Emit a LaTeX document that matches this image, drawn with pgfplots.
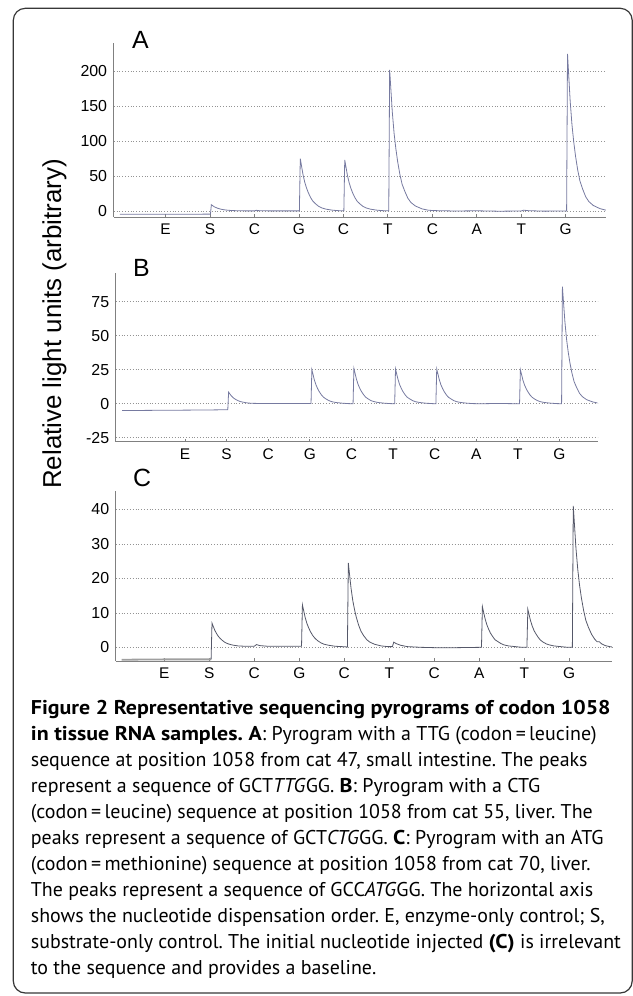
\documentclass[border=0pt]{standalone}
\usepackage{fontspec}
\setmainfont{Liberation Sans}
\newfontfamily\capfont{PT Sans}[BoldFeatures={FakeStretch=1.1}]
\usepackage{pgfplots}
\pgfplotsset{compat=1.18}
\usepackage{pgfplotstable}

\definecolor{trace}{RGB}{118,122,160}
\definecolor{traceC}{RGB}{85,88,105}
\definecolor{axgray}{RGB}{128,128,128}
\definecolor{boxgray}{RGB}{55,55,55}

% pyrogram A: TTG, cat 47 small intestine
\pgfplotstableread{
x y
-0.03 -4.7
1.00 -4.6
2.00 -4.5
2.01 -4.4
2.03 9.0
2.06 7.6
2.09 6.3
2.13 5.0
2.17 4.0
2.21 3.2
2.26 2.4
2.31 1.8
2.37 1.3
2.44 0.9
2.51 0.6
2.61 0.4
2.80 0.2
3.00 0.2
3.04 1.0
3.10 0.5
3.30 0.2
4.00 0.2
4.01 0.3
4.03 75.0
4.06 63.8
4.09 52.5
4.13 41.3
4.17 33.0
4.21 26.3
4.26 19.5
4.31 14.3
4.37 10.5
4.44 6.8
4.51 4.5
4.61 2.6
4.76 1.1
4.91 0.4
5.00 0.2
5.01 0.3
5.03 73.0
5.06 62.1
5.09 51.1
5.13 40.2
5.17 32.1
5.21 25.6
5.26 19.0
5.31 13.9
5.37 10.2
5.44 6.6
5.51 4.4
5.61 2.6
5.76 1.1
5.91 0.4
6.01 0.2
6.02 0.3
6.04 202.0
6.07 171.7
6.10 141.4
6.14 111.1
6.18 88.9
6.22 70.7
6.27 52.5
6.32 38.4
6.38 28.3
6.45 18.2
6.52 12.1
6.62 7.1
6.77 3.0
6.92 1.0
7.10 0.5
7.50 0.0
8.00 0.3
8.50 -0.3
9.00 0.0
9.05 1.2
9.15 0.5
9.50 -0.2
10.01 0.0
10.02 0.2
10.04 225.0
10.07 191.3
10.10 157.5
10.14 123.8
10.18 99.0
10.22 78.8
10.27 58.5
10.32 42.8
10.38 31.5
10.45 20.3
10.52 13.5
10.62 7.9
10.77 3.4
10.90 1.2
}\tabA

% pyrogram B: CTG, cat 55 liver
\pgfplotstableread{
x y
-0.51 -5.0
0.50 -4.8
1.50 -4.6
2.03 -4.4
2.05 8.5
2.08 7.2
2.11 6.0
2.15 4.7
2.19 3.7
2.23 3.0
2.28 2.2
2.33 1.6
2.39 1.2
2.46 0.8
2.53 0.5
2.63 0.3
2.80 0.2
3.50 0.2
4.03 0.2
4.05 25.0
4.08 21.3
4.11 17.5
4.15 13.8
4.19 11.0
4.23 8.8
4.28 6.5
4.33 4.8
4.39 3.5
4.46 2.3
4.53 1.5
4.63 0.9
4.78 0.4
4.93 0.1
5.04 0.0
5.06 26.0
5.09 22.1
5.12 18.2
5.16 14.3
5.20 11.4
5.24 9.1
5.29 6.8
5.34 4.9
5.40 3.6
5.47 2.3
5.54 1.6
5.64 0.9
5.79 0.4
5.94 0.1
6.04 0.0
6.06 25.5
6.09 21.7
6.12 17.9
6.16 14.0
6.20 11.2
6.24 8.9
6.29 6.6
6.34 4.8
6.40 3.6
6.47 2.3
6.54 1.5
6.64 0.9
6.79 0.4
6.94 0.1
7.03 0.0
7.05 25.5
7.08 21.7
7.11 17.9
7.15 14.0
7.19 11.2
7.23 8.9
7.28 6.6
7.33 4.8
7.39 3.6
7.46 2.3
7.53 1.5
7.63 0.9
7.78 0.4
7.93 0.1
8.10 0.0
8.50 0.2
9.04 0.0
9.06 25.0
9.09 21.3
9.12 17.5
9.16 13.8
9.20 11.0
9.24 8.8
9.29 6.5
9.34 4.8
9.40 3.5
9.47 2.3
9.54 1.5
9.64 0.9
9.79 0.4
9.94 0.1
10.05 0.0
10.07 86.0
10.10 73.1
10.13 60.2
10.17 47.3
10.21 37.8
10.25 30.1
10.30 22.4
10.35 16.3
10.41 12.0
10.48 7.7
10.55 5.2
10.65 3.0
10.80 1.3
10.91 0.6
}\tabB

% pyrogram C: ATG, cat 70 liver
\pgfplotstableread{
x y
0.05 -3.6
1.00 -3.5
2.04 -3.5
}\tabCbase

\pgfplotstableread{
x y
2.04 -3.5
2.06 7.0
2.09 6.0
2.12 5.0
2.16 4.0
2.20 3.2
2.24 2.6
2.29 2.0
2.34 1.5
2.40 1.1
2.47 0.8
2.54 0.6
2.64 0.4
2.80 0.3
3.00 0.3
3.05 0.8
3.12 0.5
3.30 0.3
4.05 0.3
4.07 12.3
4.10 10.5
4.13 8.7
4.17 6.9
4.21 5.6
4.25 4.5
4.30 3.4
4.35 2.6
4.41 1.9
4.48 1.3
4.55 0.9
4.65 0.6
4.80 0.3
4.95 0.2
5.07 0.1
5.09 24.5
5.12 20.8
5.15 17.2
5.19 13.5
5.23 10.8
5.27 8.6
5.32 6.4
5.37 4.7
5.43 3.4
5.50 2.2
5.57 1.5
5.67 0.9
5.82 0.4
5.97 0.2
6.07 0.2
6.10 1.5
6.15 1.1
6.25 0.6
6.40 0.2
6.70 0.0
7.00 -0.1
7.50 -0.1
8.05 0.0
8.07 11.8
8.10 10.0
8.13 8.3
8.17 6.5
8.21 5.2
8.25 4.1
8.30 3.1
8.35 2.2
8.41 1.7
8.48 1.1
8.55 0.7
8.65 0.4
8.80 0.2
8.95 0.0
9.06 0.0
9.08 11.0
9.11 9.4
9.14 7.7
9.18 6.1
9.22 4.8
9.26 3.9
9.31 2.9
9.36 2.1
9.42 1.5
9.49 1.0
9.56 0.7
9.66 0.4
9.81 0.2
9.96 0.0
10.07 0.0
10.09 41.0
10.12 34.9
10.15 28.7
10.19 22.6
10.23 18.0
10.27 14.4
10.32 10.7
10.37 7.8
10.43 5.7
10.50 3.7
10.57 2.3
10.62 1.6
10.67 1.6
10.72 1.0
10.80 0.5
10.90 0.2
10.95 0.1
}\tabC

\pgfplotsset{
  pyro/.style={
    scale only axis, anchor=south west,
    axis x line*=bottom, axis y line*=left,
    axis line style={axgray, line width=0.9bp},
    xtick={1,...,10},
    xticklabels={E,S,C,G,C,T,C,A,T,G},
    xtick style={axgray, line width=0.8bp},
    ytick style={draw=none},
    tick align=inside, major tick length=3bp,
    ymajorgrids,
    grid style={gray!85, line width=0.6bp, dash pattern=on 0.7bp off 2.1bp},
    yticklabel style={font=\fontsize{16}{16}\selectfont, inner sep=0pt},
    xticklabel style={font=\fontsize{15.5}{15.5}\selectfont, inner sep=0pt},
    /pgf/number format/assume math mode=true,
    xticklabel shift=7bp, yticklabel shift=6.5bp,
  }
}

\begin{document}
\frenchspacing
\begin{tikzpicture}
\path[use as bounding box] (0,0) rectangle (633bp,-996bp);

\draw[boxgray, line width=1.2bp, rounded corners=12bp]
  (13.3bp,-8.3bp) rectangle (632.2bp,-993bp);

% panel A
\begin{axis}[pyro, at={(113.8bp,-217bp)},
  width=492.6bp, height=173.7bp,
  xmin=-0.164, xmax=10.915, ymin=-8.6, ymax=240,
  ytick={0,50,100,150,200}]
\addplot[trace, line width=0.8bp] table {\tabA};
\end{axis}

% panel B
\begin{axis}[pyro, at={(115.9bp,-441.7bp)},
  width=481.6bp, height=169bp,
  xmin=-0.658, xmax=10.913, ymin=-27.9, ymax=96.3,
  ytick={-25,0,25,50,75}]
\addplot[trace, line width=0.8bp] table {\tabB};
\end{axis}

% panel C
\begin{axis}[pyro, at={(115.9bp,-661bp)},
  width=496.5bp, height=170.3bp,
  xmin=-0.076, xmax=10.96, ymin=-3.97, ymax=45.4,
  ytick={0,10,20,30,40}]
\addplot[gray!75, line width=1.8bp] table {\tabCbase};
\addplot[traceC, line width=0.8bp] table {\tabC};
\end{axis}

\node[anchor=base west, inner sep=0pt, font=\fontsize{25}{25}\selectfont] at (132bp,-48bp) {A};
\node[anchor=base west, inner sep=0pt, font=\fontsize{25}{25}\selectfont] at (133bp,-276.5bp) {B};
\node[anchor=base west, inner sep=0pt, font=\fontsize{25}{25}\selectfont] at (133bp,-486.5bp) {C};

\node[rotate=90, inner sep=0pt, font=\fontsize{26}{26}\selectfont] at (54.5bp,-324bp) {Relative light units (arbitrary)};

\begin{scope}[every node/.style={anchor=base west, inner sep=0pt, font=\capfont\fontsize{20}{26}\selectfont}]
\node at (30.7bp,-714bp) {\textbf{Figure 2 Representative sequencing pyrograms of codon 1058}};
\node at (30.7bp,-740bp) {\textbf{in tissue RNA samples. A}: Pyrogram with a TTG (codon\,=\,leucine)};
\node at (30.7bp,-766bp) {sequence at position 1058 from cat 47, small intestine. The peaks};
\node at (30.7bp,-792bp) {represent a sequence of GCT\textit{TTG}GG. \textbf{B}: Pyrogram with a CTG};
\node at (30.7bp,-818bp) {(codon\,=\,leucine) sequence at position 1058 from cat 55, liver. The};
\node at (30.7bp,-844bp) {peaks represent a sequence of GCT\textit{CTG}GG. \textbf{C}: Pyrogram with an ATG};
\node at (30.7bp,-870bp) {(codon\,=\,methionine) sequence at position 1058 from cat 70, liver.};
\node at (30.7bp,-896bp) {The peaks represent a sequence of GCC\textit{ATG}GG. The horizontal axis};
\node at (30.7bp,-922bp) {shows the nucleotide dispensation order. E, enzyme-only control; S,};
\node at (30.7bp,-948bp) {substrate-only control. The initial nucleotide injected \textbf{(C)} is irrelevant};
\node at (30.7bp,-974bp) {to the sequence and provides a baseline.};
\end{scope}
\end{tikzpicture}
\end{document}
